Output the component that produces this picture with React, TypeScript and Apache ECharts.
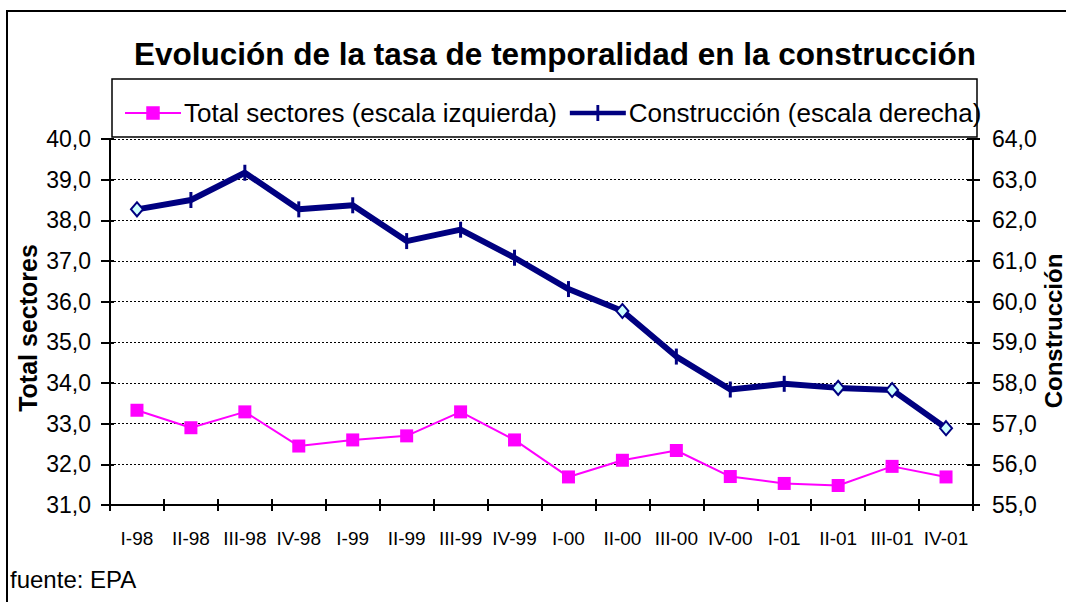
import React, { useEffect, useRef } from "react";
import * as echarts from "echarts";

const categories = ["I-98", "II-98", "III-98", "IV-98", "I-99", "II-99", "III-99", "IV-99", "I-00", "II-00", "III-00", "IV-00", "I-01", "II-01", "III-01", "IV-01"];
const totalSectores = [33.33, 32.9, 33.29, 32.45, 32.6, 32.7, 33.29, 32.6, 31.69, 32.1, 32.34, 31.7, 31.53, 31.48, 31.95, 31.69];
const construccion = [62.27, 62.5, 63.17, 62.27, 62.37, 61.49, 61.77, 61.08, 60.31, 59.77, 58.65, 57.84, 57.98, 57.88, 57.83, 56.89];
const diamondPoints = [0, 9, 13, 14, 15];
const leftTicks = { min: 31, max: 40, interval: 1 };
const rightTicks = { min: 55, max: 64, interval: 1 };

const FONT = '"Liberation Sans", Arial, sans-serif';
const NAVY = "#000080";
const MAGENTA = "#FF00FF";
const fmt = (v: number) => v.toFixed(1).replace(".", ",");
const TICK = "path://M0,0L1,0L1,1L0,1Z";
const ICON_TOTAL = "path://M0,5.5L20.5,5.5L20.5,0L33.5,0L33.5,5.5L54,5.5L54,7.5L33.5,7.5L33.5,13L20.5,13L20.5,7.5L0,7.5Z";
const ICON_CONS = "path://M0,6L28,6L28,0L31,0L31,6L59,6L59,11L31,11L31,17L28,17L28,11L0,11Z";

export default function App() {
  const ref = useRef<HTMLDivElement>(null);
  useEffect(() => {
    if (!ref.current) return;
    const chart = echarts.init(ref.current, undefined, { renderer: "svg" });
    const grid = { left: 110, right: 93, top: 139, bottom: 97, containLabel: false, outerBoundsMode: "none" };
    const yBase = (side: "left" | "right", t: any) => ({
      type: "value",
      position: side,
      min: t.min,
      max: t.max,
      interval: t.interval,
    });
    chart.setOption({
      animation: false,
      backgroundColor: "#ffffff",
      title: {
        text: "Evolución de la tasa de temporalidad en la construcción",
        left: 550,
        textAlign: "center",
        top: 33,
        textStyle: { fontFamily: FONT, fontSize: 31.5, fontWeight: "bold", color: "#000" },
      },
      legend: {
        left: 120,
        top: 95,
        itemGap: 13,
        textStyle: { fontFamily: FONT, fontSize: 26, color: "#000", padding: [0, 0, 0, -2] },
        data: [
          { name: "Total sectores (escala izquierda)", icon: ICON_TOTAL, itemWidth: 54, itemHeight: 13, itemStyle: { color: MAGENTA } },
          { name: "Construcción (escala derecha)", icon: ICON_CONS, itemWidth: 59, itemHeight: 17, itemStyle: { color: NAVY } },
        ],
        itemWidth: 56,
        itemHeight: 17,
      },
      grid,
      xAxis: [
        {
          type: "category",
          data: categories,
          boundaryGap: true,
          axisLine: { show: true, lineStyle: { color: "#000", width: 2 } },
          axisTick: { show: true, length: 6, lineStyle: { color: "#000", width: 2 } },
          axisLabel: { fontFamily: FONT, fontSize: 19, color: "#000", margin: 24, interval: 0 },
          splitLine: { show: false },
        },
        {
          type: "category",
          data: categories,
          position: "bottom",
          boundaryGap: true,
          axisLine: { show: false },
          axisTick: { show: true, inside: true, length: 6, lineStyle: { color: "#000", width: 2 } },
          axisLabel: { show: false },
          splitLine: { show: false },
        },
      ],
      yAxis: [
        {
          ...yBase("left", leftTicks),
          name: "Total sectores",
          nameLocation: "middle",
          nameRotate: 90,
          nameGap: 70,
          nameMoveOverlap: false,
          nameTextStyle: { fontFamily: FONT, fontSize: 25, fontWeight: "bold", color: "#000", padding: [0, 12, 0, 0] },
          axisLine: { show: true, lineStyle: { color: "#000", width: 2 } },
          axisTick: { show: true, length: 9, lineStyle: { color: "#000", width: 2 } },
          axisLabel: { fontFamily: FONT, fontSize: 23, color: "#000", margin: 19, formatter: fmt },
          splitLine: { show: true, lineStyle: { color: "#000", width: 1.2, type: [2, 2] } },
        },
        {
          ...yBase("right", rightTicks),
          name: "Construcción",
          nameLocation: "middle",
          nameRotate: 90,
          nameGap: 68,
          nameMoveOverlap: false,
          nameTextStyle: { fontFamily: FONT, fontSize: 24, fontWeight: "bold", color: "#000", padding: [0, 18, 0, 0] },
          axisLine: { show: true, lineStyle: { color: "#000", width: 2 } },
          axisTick: { show: true, length: 7, lineStyle: { color: "#000", width: 2 } },
          axisLabel: { fontFamily: FONT, fontSize: 23, color: "#000", margin: 19, formatter: fmt },
          splitLine: { show: false },
        },
        {
          ...yBase("left", leftTicks),
          axisLine: { show: false },
          axisTick: { show: true, inside: true, length: 4, lineStyle: { color: "#000", width: 2 } },
          axisLabel: { show: false },
          splitLine: { show: false },
        },
        {
          ...yBase("right", rightTicks),
          axisLine: { show: false },
          axisTick: { show: true, inside: true, length: 6, lineStyle: { color: "#000", width: 2 } },
          axisLabel: { show: false },
          splitLine: { show: false },
        },
      ],
      series: [
        {
          name: "Total sectores (escala izquierda)",
          type: "line",
          xAxisIndex: 0,
          yAxisIndex: 0,
          data: totalSectores,
          symbol: "rect",
          symbolSize: 13,
          lineStyle: { color: MAGENTA, width: 2 },
          itemStyle: { color: MAGENTA },
          z: 3,
        },
        {
          name: "Construcción (escala derecha)",
          type: "line",
          xAxisIndex: 0,
          yAxisIndex: 1,
          symbol: TICK,
          symbolSize: [3, 16],
          lineStyle: { color: NAVY, width: 6 },
          itemStyle: { color: NAVY },
          data: construccion.map((v, i) =>
            diamondPoints.includes(i)
              ? {
                  value: v,
                  symbol: "diamond",
                  symbolSize: [12, 14],
                  itemStyle: { color: "#CCFFFF", borderColor: NAVY, borderWidth: 2 },
                }
              : v
          ),
          z: 4,
        },
      ],
      graphic: [
        {
          type: "rect",
          shape: { x: 7, y: 11, width: 1200, height: 800 },
          style: { fill: "none", stroke: "#000", lineWidth: 2 },
          silent: true,
          z: -1,
        },
        {
          type: "rect",
          shape: { x: 112, y: 79, width: 865, height: 58 },
          style: { fill: "#fff", stroke: "#000", lineWidth: 1.5 },
          silent: true,
          z: -1,
        },
        {
          type: "text",
          left: 10,
          top: 567,
          style: { text: "fuente: EPA", font: `24px ${FONT}`, fill: "#000" },
        },
      ],
    });
    return () => chart.dispose();
  }, []);
  return (
    <div
      ref={ref}
      style={{ position: "fixed", left: 0, top: 0, width: 1066, height: 602, background: "#fff" }}
    />
  );
}
